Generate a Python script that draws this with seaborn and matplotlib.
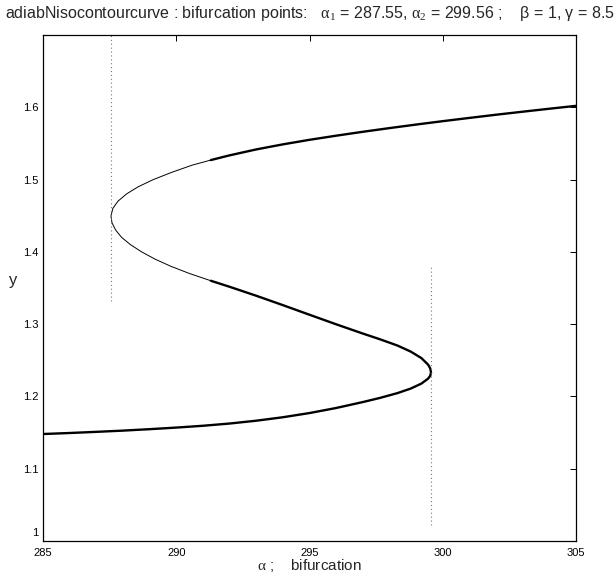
import matplotlib
matplotlib.use("Agg")
import matplotlib.pyplot as plt
import matplotlib.transforms as mtransforms
import seaborn as sns
import pandas as pd

# Isocontour branches (alpha, y); thick = stable, thin = unstable part
lower_alpha = [285.0, 286.0, 287.0, 288.0, 289.0, 290.0, 291.0, 292.0, 293.0, 294.0,
               295.0, 296.0, 297.0, 297.65, 298.3, 298.8, 299.2, 299.45, 299.53,
               299.56, 299.53, 299.45, 299.2, 298.8, 298.3, 297.65, 297.0, 296.0,
               295.0, 294.0, 293.0, 292.0, 291.3]
lower_y = [1.1480, 1.1494, 1.1510, 1.1527, 1.1547, 1.1569, 1.1594, 1.1625, 1.1664, 1.1712,
           1.1770, 1.1840, 1.1922, 1.1980, 1.2046, 1.2109, 1.2178, 1.2246, 1.2286,
           1.2330, 1.2388, 1.2440, 1.2530, 1.2620, 1.2704, 1.2790, 1.2870, 1.2998,
           1.3130, 1.3263, 1.3393, 1.3517, 1.3600]

middle_alpha = [291.3, 290.5, 289.8, 289.2, 288.7, 288.28, 287.95, 287.73, 287.59,
                287.55, 287.62, 287.81, 288.13, 288.57, 289.14, 289.83, 290.6, 291.3]
middle_y = [1.360, 1.370, 1.380, 1.390, 1.400, 1.410, 1.420, 1.430, 1.440,
            1.4495, 1.460, 1.470, 1.480, 1.490, 1.500, 1.510, 1.520, 1.527]

upper_alpha = [291.3, 292.0, 293.0, 294.0, 295.0, 296.0, 297.0, 298.0, 299.0, 300.0,
               301.0, 302.0, 303.0, 304.0, 305.0]
upper_y = [1.5270, 1.5335, 1.5417, 1.5487, 1.5550, 1.5607, 1.5661, 1.5712, 1.5761,
           1.5808, 1.5853, 1.5897, 1.5939, 1.5980, 1.6020]

# Bifurcation markers
bif_alpha = [287.55, 299.56]
bif_y_from = [1.332, 1.022]
bif_y_to = [1.700, 1.382]

x_ticks = [285, 290, 295, 300, 305]
x_ticklabels = ["285", "290", "295", "300", "305"]
y_ticks = [1.0, 1.1, 1.2, 1.3, 1.4, 1.5, 1.6]
y_ticklabels = ["1", "1.1", "1.2", "1.3", "1.4", "1.5", "1.6"]

sns.set_theme(style="white")
plt.rcParams["font.family"] = ["Liberation Sans", "DejaVu Sans"]
plt.rcParams["mathtext.fontset"] = "custom"
plt.rcParams["mathtext.rm"] = "Liberation Serif"
plt.rcParams["mathtext.it"] = "Liberation Serif"

fig = plt.figure(figsize=(6.16, 5.75), dpi=100)
ax = fig.add_axes([43 / 616, 34 / 575, 533 / 616, 506 / 575])

for a, yy, lw in [(lower_alpha, lower_y, 1.7),
                  (middle_alpha, middle_y, 0.7),
                  (upper_alpha, upper_y, 1.7)]:
    df = pd.DataFrame({"alpha": a, "y": yy})
    sns.lineplot(data=df, x="alpha", y="y", sort=False, estimator=None,
                 color="black", linewidth=lw, ax=ax)

for a, y0, y1 in zip(bif_alpha, bif_y_from, bif_y_to):
    ax.plot([a, a], [y0, y1], color="#777777", linestyle=(0, (1, 2.5)),
            linewidth=0.8, clip_on=False)

ax.set_xlim(285, 305)
ax.set_ylim(1.0, 1.7)
ax.set_xticks(x_ticks)
ax.set_xticklabels(x_ticklabels)
ax.set_yticks(y_ticks)
ax.set_yticklabels(y_ticklabels)
ax.tick_params(direction="in", top=True, right=True, length=4, width=0.7,
               labelsize=8, colors="black", pad=3)
ax.tick_params(axis="x", pad=5)
# lift the bottom y label clear of the x labels
first = ax.get_yticklabels()[0]
first.set_transform(first.get_transform() +
                    mtransforms.ScaledTranslation(0, 0.09, fig.dpi_scale_trans))
for s in ax.spines.values():
    s.set_color("black")
    s.set_linewidth(0.9)

ax.set_xlabel(r"$\mathrm{α}$ ;    bifurcation", fontsize=11, labelpad=-1)
ax.set_ylabel("y", fontsize=12, rotation=0, labelpad=7)
ax.set_title(r"adiabNisocontourcurve : bifurcation points:   $\mathrm{α}_1$ = 287.55, "
             r"$\mathrm{α}_2$ = 299.56 ;    β = 1, γ = 8.5",
             fontsize=11.5, pad=12)

fig.savefig("out.png", dpi=100, facecolor="white")
